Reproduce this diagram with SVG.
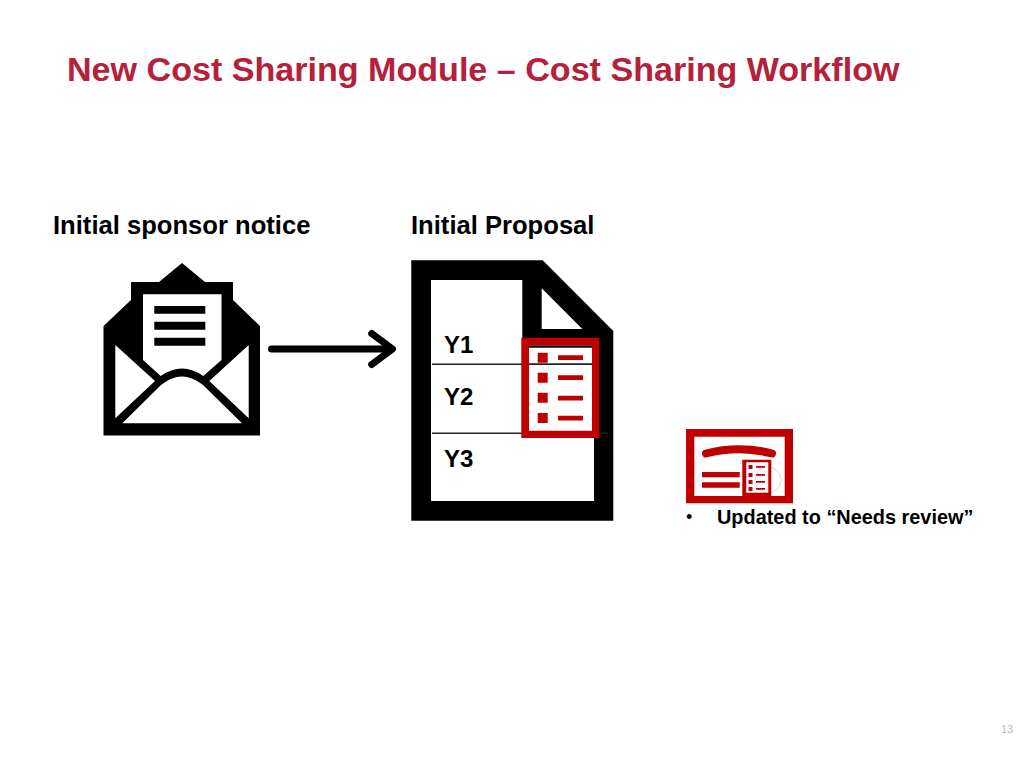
<svg xmlns="http://www.w3.org/2000/svg" width="1024" height="768" viewBox="0 0 1024 768">
<style>
text{font-family:"Liberation Sans",Arial,sans-serif;font-weight:bold;fill:#000}
.lbl{font-size:25.6px}
.y{font-size:24px}
.r{fill:#c00000}
.w{fill:#fff}
.k{fill:#000}
</style>
<rect width="1024" height="768" fill="#fff"/>
<text id="title" x="67" y="81" font-size="34.1" style="fill:#b5203b">New Cost Sharing Module – Cost Sharing Workflow</text>
<text class="lbl" x="53" y="234">Initial sponsor notice</text>
<text class="lbl" x="411" y="234">Initial Proposal</text>
<g id="envelope">
<path class="k" d="M103.5 326L131 300V282H159L182 263L205 282H233V300L260 326V435.5H103.5Z"/>
<path class="w" d="M143 294.3H221.5V360L203.3 376Q182 361 160.7 376L143 360Z"/>
<path class="k" d="M154.3 306H205.3V313.7H154.3ZM154.3 321.7H205.3V329.7H154.3ZM154.3 337.7H205.3V345.7H154.3Z"/>
<path class="w" d="M115.3 345L155 381L115.3 418.3ZM248.7 345L209.3 381L248.7 418.3ZM122.3 423.3L161 385Q182 368 203 385L242 423.3Z"/>
</g>
<g id="connectors">
<path d="M271.5 349H391M371.7 333.5L392.5 349L371.7 364.5" fill="none" stroke="#000" stroke-width="7" stroke-linecap="round" stroke-linejoin="round"/>
</g>
<g id="document">
<path class="k" d="M411.3 260.3H542.7L613.3 331V520.7H411.3Z"/>
<path class="w" d="M431 280H522.3V338H594V501H431Z"/>
<path class="w" d="M541.7 288.3L582.3 329H541.7Z"/>
<path d="M432 364.3H592M432 433.3H608" stroke="#222" stroke-width="1.5" fill="none"/>
<text class="y" x="444" y="353">Y1</text>
<text class="y" x="444" y="405">Y2</text>
<text class="y" x="444" y="467">Y3</text>
</g>
<g id="checklist">
<path class="r" fill-rule="evenodd" d="M521.3 337.7H599.3V438H521.3ZM529 345.7V430.7H592V345.7Z"/>
<rect class="k" x="529" y="345.7" width="63" height="2"/>
<path d="M529 364.3H592" stroke="#222" stroke-width="1.5"/>
<path class="r" d="M537.7 352.7h10v10h-10ZM537.7 372.7h10v10h-10ZM537.7 392.7h10v10h-10ZM537.7 413h10v10h-10ZM558 355.3h25v4.7h-25ZM558 375.3h25v4.7h-25ZM558 395.7h25v4.7h-25ZM558 415.7h25v4.7h-25Z"/>
</g>
<g id="phone">
<path class="r" fill-rule="evenodd" d="M686 429H793V503.3H686ZM694.3 436.7V496H784.7V436.7Z"/>
<path d="M706 453.5Q739 445 772 453.5" fill="none" stroke="#c00000" stroke-width="8" stroke-linecap="round"/>
<path class="r" d="M702 472H739.7V477.3H702ZM702 482.3H739.7V487.7H702Z"/>
<circle cx="768" cy="480" r="13" fill="none" stroke="#d0d0d0" stroke-width="0.8"/>
<path class="r" fill-rule="evenodd" d="M742.3 459.7H771.3V496H742.3ZM746.3 462.3V492.7H768.3V462.3Z"/>
<path class="r" d="M748.5 465h4v4h-4ZM748.5 473h4v4h-4ZM748.5 480h4v4h-4ZM748.5 487h4v4h-4ZM756 466h9v1.8h-9ZM756 474h9v1.8h-9ZM756 481h9v1.8h-9ZM756 488h9v1.8h-9Z"/>
</g>
<g id="note">
<text x="686" y="523" font-size="18" style="font-weight:normal">•</text>
<text x="717" y="524" font-size="19.9">Updated to “Needs review”</text>
</g>
<text x="1001" y="733" font-size="11" style="font-weight:normal;fill:#bbb">13</text>
</svg>
